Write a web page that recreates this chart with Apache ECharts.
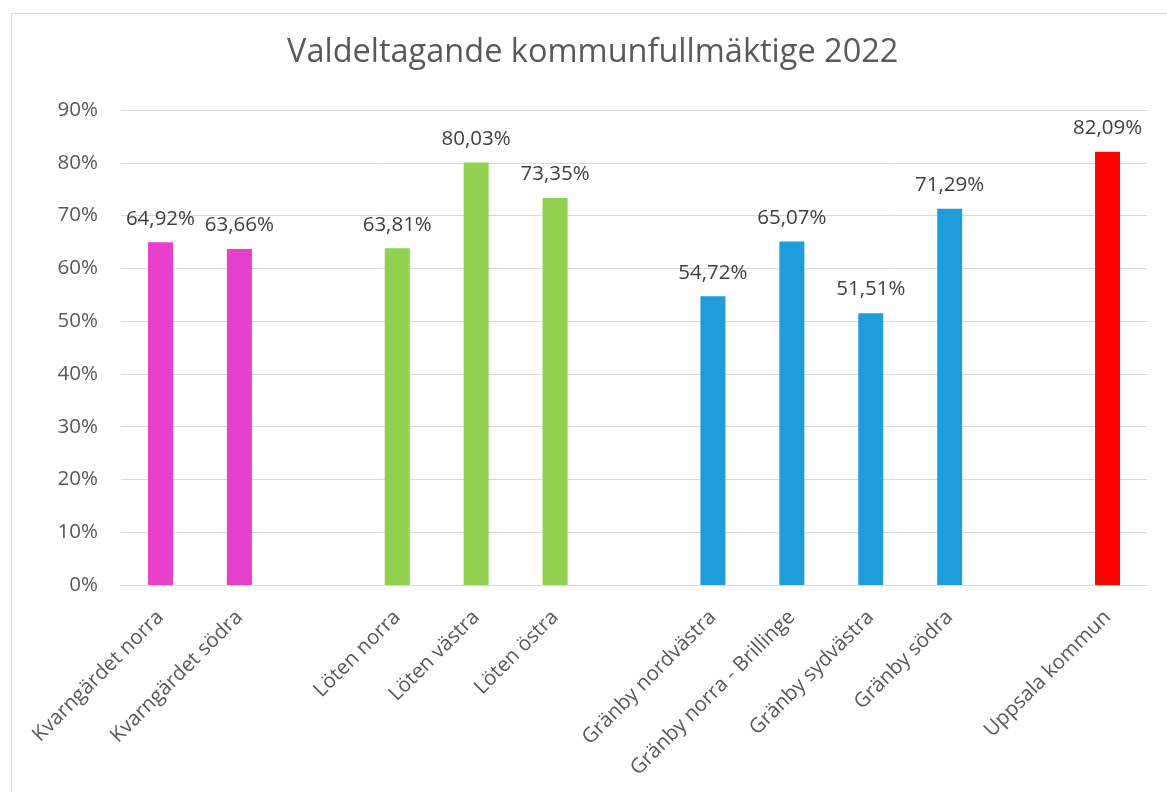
<!DOCTYPE html>
<html>
<head>
<meta charset="utf-8">
<script src="https://cdn.jsdelivr.net/npm/echarts@6/dist/echarts.min.js"></script>
<style>html,body{margin:0;padding:0;background:#fff}#c{width:1167px;height:792px}</style>
</head>
<body>
<div id="c"></div>
<script>
const title = 'Valdeltagande kommunfullmäktige 2022';
const categories = ['Kvarngärdet norra', 'Kvarngärdet södra', ' ', 'Löten norra', 'Löten västra', 'Löten östra', '  ', 'Gränby nordvästra', 'Gränby norra - Brillinge', 'Gränby sydvästra', 'Gränby södra', '   ', 'Uppsala kommun'];
const values = [64.92, 63.66, null, 63.81, 80.03, 73.35, null, 54.72, 65.07, 51.51, 71.29, null, 82.09];
const groups = ['kv', 'kv', null, 'lo', 'lo', 'lo', null, 'gr', 'gr', 'gr', 'gr', null, 'up'];
const groupColors = {kv: '#E83FCC', lo: '#92D050', gr: '#1F9DDA', up: '#FF0000'};
const yTicks = {min: 0, max: 90, interval: 10};

const chart = echarts.init(document.getElementById('c'), null, {renderer: 'canvas'});
const fam = '"Open Sans", sans-serif';
chart.setOption({
  animation: false,
  backgroundColor: '#fff',
  title: {
    text: title, left: 287, top: 36, padding: 0,
    textStyle: {fontFamily: fam, fontSize: 32.5, fontWeight: 'normal', color: '#595959'}
  },
  graphic: [{type: 'rect', left: 9, top: 11, shape: {width: 1300, height: 1000}, style: {fill: 'none', stroke: '#d9d9d9', lineWidth: 1}, silent: true}],
  grid: {left: 121, right: 20, top: 110, bottom: 207, containLabel: false},
  xAxis: {
    type: 'category', data: categories,
    axisLine: {lineStyle: {color: '#d9d9d9', width: 1}},
    axisTick: {show: false},
    axisLabel: {rotate: 45, interval: 0, margin: 29, fontFamily: fam, fontSize: 20.5, color: '#595959'}
  },
  yAxis: {
    type: 'value', min: yTicks.min, max: yTicks.max, interval: yTicks.interval,
    axisLine: {show: false}, axisTick: {show: false},
    splitLine: {lineStyle: {color: '#d9d9d9', width: 1}},
    axisLabel: {formatter: '{value}%', margin: 23, fontFamily: fam, fontSize: 20.5, color: '#595959'}
  },
  series: [{
    type: 'bar', barWidth: 25,
    data: values.map((v, i) => v == null ? null : {value: v, itemStyle: {color: groupColors[groups[i]]}}),
    label: {
      show: true, position: 'top', distance: 13,
      formatter: p => p.value.toFixed(2).replace('.', ',') + '%',
      fontFamily: fam, fontSize: 20.5, color: '#404040'
    }
  }]
});
</script>
</body>
</html>
